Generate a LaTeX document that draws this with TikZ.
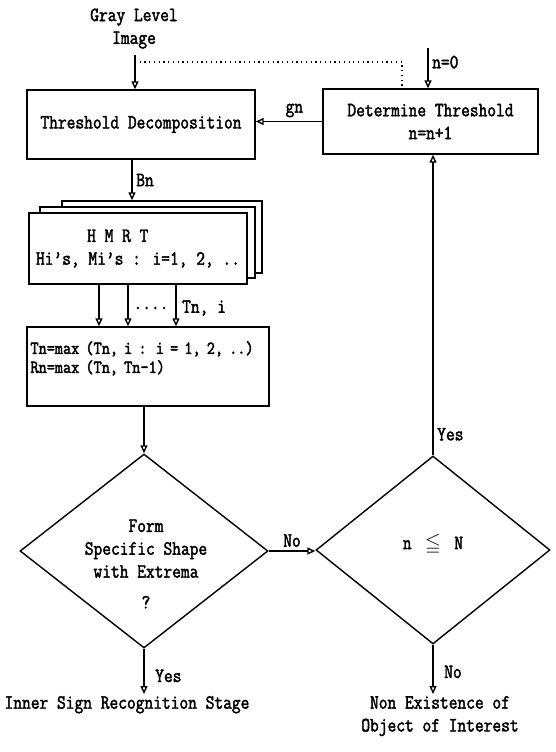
\documentclass[tikz,border=0pt]{standalone}
\usepackage{amssymb}
\usepackage{fontspec}
\setmainfont{Latin Modern Mono}[FakeStretch=0.84, FakeBold=2]
\usetikzlibrary{shapes.geometric,arrows.meta,positioning}

\begin{document}
\begin{tikzpicture}[
    every node/.style={font=\fontsize{11.5}{13}\selectfont},
    box/.style={draw, line width=0.8pt, inner sep=2pt, align=center},
    layer/.style={draw, line width=0.8pt, fill=white, minimum height=1.42cm},
    decision/.style={draw, diamond, line width=0.8pt, inner sep=0pt},
    link/.style={line width=0.8pt, -{Triangle[open, length=1.6mm, width=1.4mm]}},
    lbl/.style={inner sep=2pt},
    small/.style={font=\fontsize{10.5}{10.8}\selectfont},
]
\useasboundingbox (0,0) rectangle (11.1,-15.04);

% --- input and decomposition ---
\node[align=center] (gray) at (2.68,-0.57) {Gray Level\\Image};
\node[box, minimum width=4.56cm, minimum height=1.38cm] (td) at (2.82,-2.49)
    {Threshold Decomposition};
\node[box, minimum width=4.30cm, minimum height=1.30cm] (dt) at (8.61,-2.43)
    {Determine Threshold\\n=n+1};

% --- stacked HMRT layers (back to front) ---
\node[layer, minimum width=4.00cm, minimum height=1.44cm] (back) at (3.24,-4.74) {};
\node[layer, minimum width=4.30cm] (mid) at (2.95,-4.85) {};
\node[layer, minimum width=4.36cm, align=center] (front) at (2.76,-4.97)
    {H M R T\hspace*{2em}\\Hi's, Mi's : i=1, 2, ..};

\node[box, small, minimum width=4.84cm, minimum height=1.58cm, text width=4.7cm,
      align=left, inner sep=1pt] (maxb) at (2.96,-7.33)
    {Tn=max (Tn, i : i = 1, 2, ..)\\Rn=max (Tn, Tn-1)\\\mbox{}};

% --- decisions ---
\node[decision, minimum width=4.96cm, minimum height=3.88cm] (form) at (2.88,-11.02) {};
\node[align=center] (formq) at (2.92,-11.28)
    {Form\\Specific Shape\\with Extrema\\[0.16cm]?};
\node[decision, minimum width=4.68cm, minimum height=3.76cm] (test) at (8.66,-11.0) {};
\node (testq) at (8.66,-10.88) {n\hspace{0.27cm}$\leqq$\hspace{0.27cm}N};

% --- outcomes ---
\node[anchor=north, inner sep=1pt] (inner) at (2.54,-13.88) {Inner Sign Recognition Stage};
\node[anchor=north, inner sep=1pt, align=center] (nonex) at (8.80,-13.88)
    {Non Existence of\\Object of Interest};

% --- connectors ---
\coordinate (split) at (2.70,-1.24);
\coordinate (dotend) at (8.04,-1.74);
\coordinate (nzero) at (8.56,-0.96);
\coordinate (bn) at (2.64,0);
\coordinate (t1) at (1.98,0);
\coordinate (t2) at (2.56,0);
\coordinate (t3) at (3.52,0);

\draw[link] (gray.south -| split) -- (td.north -| split);
\draw[dotted, line width=0.7pt] (split) -| (dotend);
\draw[link] (nzero) -- (nzero |- dt.north)
    node[lbl, right, pos=0.35] {n=0};
\draw[link] (dt.west) -- (dt.west -| td.east)
    node[lbl, above, pos=0.42] {gn};
\draw[link] (td.south -| bn) -- (back.north -| bn)
    node[lbl, right, pos=0.5] {Bn};
\foreach \t in {t1,t2,t3}
    \draw[link] (front.south -| \t) -- (maxb.north -| \t);
\node at (3.02,-6.16) {....};
\node[right] at (t3 |- 0,-6.16) {Tn, i};
\draw[link] (form.north |- maxb.south) -- (form.north);
\draw[link] (form.east) -- (form.east -| test.west)
    node[lbl, above, pos=0.5] {No};
\draw[link] (test.north) -- (test.north |- dt.south)
    node[lbl, right, pos=0.07] {Yes};
\draw[link] (form.south) -- (form.south |- inner.north)
    node[lbl, right, pos=0.6, xshift=4pt] {Yes};
\draw[link] (test.south) -- (test.south |- nonex.north)
    node[lbl, right, pos=0.55, xshift=4pt] {No};
\end{tikzpicture}
\end{document}
